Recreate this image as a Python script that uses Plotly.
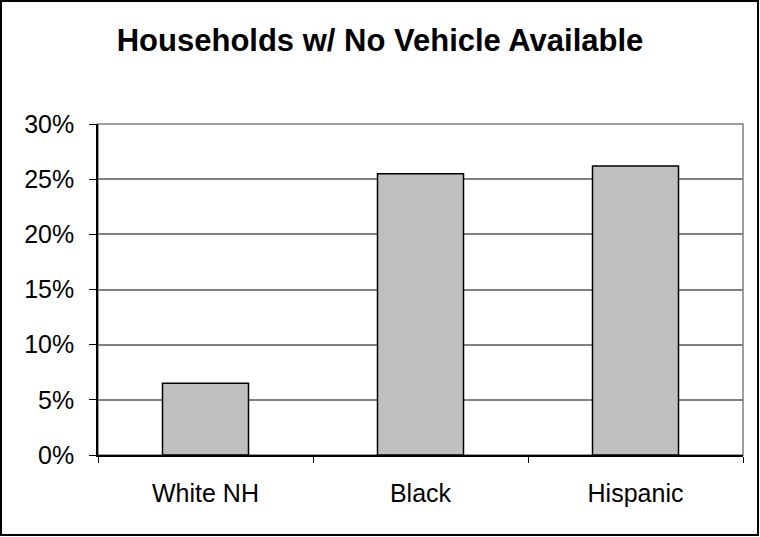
import plotly.graph_objects as go

groups = ["White NH", "Black", "Hispanic"]
no_vehicle_share = [0.065, 0.255, 0.262]

y_ticks = [0, 0.05, 0.10, 0.15, 0.20, 0.25, 0.30]

W, H = 760, 537
L, R, T, B = 98, 17, 124, 82
pw, ph = W - L - R, H - T - B

fig = go.Figure(
    go.Bar(
        x=groups,
        y=no_vehicle_share,
        marker=dict(color="#C0C0C0", line=dict(color="black", width=1.5)),
        width=0.4,
    )
)

fig.update_layout(
    width=W,
    height=H,
    margin=dict(l=L, r=R, t=T, b=B),
    paper_bgcolor="white",
    plot_bgcolor="white",
    font=dict(family="Liberation Sans, Arial, sans-serif", size=25, color="black"),
    title=dict(
        text="<b>Households w/ No Vehicle Available</b>",
        x=0.5,
        xanchor="center",
        y=1 - 40 / H,
        yanchor="middle",
        font=dict(size=31, color="black"),
    ),
    showlegend=False,
    shapes=[
        # plot area frame (grey top/right)
        dict(type="rect", xref="paper", yref="paper", x0=0, x1=1, y0=0, y1=1,
             line=dict(color="#808080", width=1.5), layer="below"),
        # outer chart border
        dict(type="rect", xref="paper", yref="paper",
             x0=(1 - L) / pw, x1=(W - 2 - L) / pw,
             y0=-(H - 2 - (T + ph)) / ph, y1=1 + (T - 1) / ph,
             line=dict(color="black", width=2)),
    ],
)

fig.update_xaxes(
    type="category",
    range=[-0.5, 2.5],
    tickson="boundaries",
    ticks="outside",
    ticklen=6,
    tickcolor="black",
    showline=True,
    linecolor="black",
    linewidth=1.5,
    showgrid=False,
    ticklabelstandoff=15,
)

fig.update_yaxes(
    range=[0, 0.30],
    tickvals=y_ticks,
    tickformat=".0%",
    ticks="outside",
    ticklen=7,
    tickcolor="black",
    showline=True,
    linecolor="black",
    linewidth=1.5,
    showgrid=True,
    gridcolor="#808080",
    gridwidth=1.5,
    zeroline=False,
    ticklabelstandoff=10,
)

fig.write_html(
    "out.html",
    config={"displayModeBar": False},
    post_script="document.body.style.margin='0';document.body.style.overflow='hidden';",
)
